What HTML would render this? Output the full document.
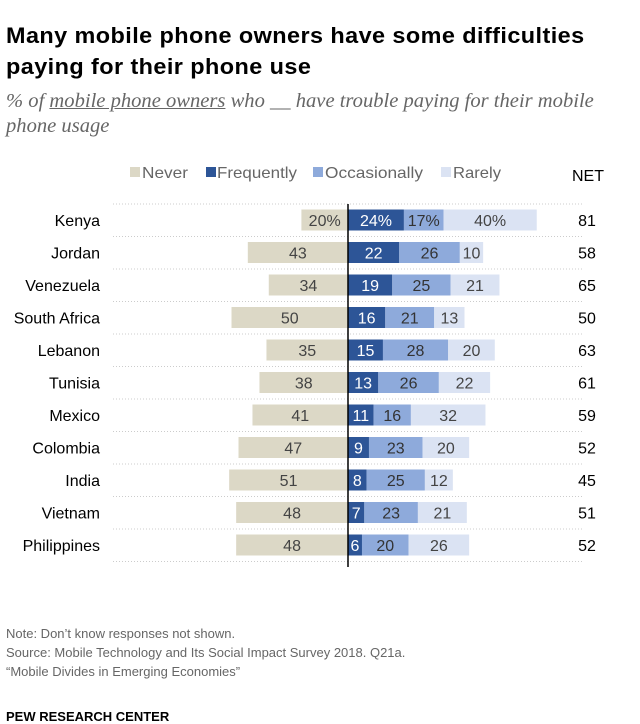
<!DOCTYPE html>
<html><head><meta charset="utf-8"><style>
body{margin:0;background:#fff;width:640px;height:723px;overflow:hidden;font-family:"Liberation Sans",sans-serif;}
.t{position:absolute;white-space:nowrap}
</style></head><body>
<div class="t" style="left:6px;top:20px;font-size:22px;font-weight:bold;line-height:31px;color:#000;letter-spacing:0.4px;transform:scaleX(1.065);transform-origin:left">Many mobile phone owners have some difficulties<br>paying for their phone use</div>
<div class="t" style="left:6px;top:89px;font-family:'Liberation Serif',serif;font-style:italic;font-size:19.5px;line-height:25px;color:#666;transform:scaleX(1.055);transform-origin:left">% of <span style="text-decoration:underline">mobile phone owners</span> who __ have trouble paying for their mobile<br>phone usage</div>
<svg id="c" width="640" height="723" style="position:absolute;left:0;top:0"></svg>
<div class="t" style="left:6px;top:624px;font-size:13px;line-height:19px;color:#666">Note: Don’t know responses not shown.<br>Source: Mobile Technology and Its Social Impact Survey 2018. Q21a.<br>“Mobile Divides in Emerging Economies”</div>
<div class="t" style="left:6px;top:709px;font-size:13px;font-weight:bold;color:#000">PEW RESEARCH CENTER</div>
<script>
const countries=["Kenya","Jordan","Venezuela","South Africa","Lebanon","Tunisia","Mexico","Colombia","India","Vietnam","Philippines"];
const never=[20,43,34,50,35,38,41,47,51,48,48];
const frequently=[24,22,19,16,15,13,11,9,8,7,6];
const occasionally=[17,26,25,21,28,26,16,23,25,23,20];
const rarely=[40,10,21,13,20,22,32,20,12,21,26];
const net=[81,58,65,50,63,61,59,52,45,51,52];
const NS="http://www.w3.org/2000/svg";
const svg=document.getElementById('c');
const cx=348,k=2.33,y0=220,step=32.5,bh=21;
const X=v=>v*k, Y=i=>y0+i*step;
const cols={never:"#dcd8c6",freq:"#2d5597",occ:"#8eaadb",rare:"#dbe3f3"};
function mk(t,a,txt){const e=document.createElementNS(NS,t);for(const key in a)e.setAttribute(key,a[key]);if(txt!==undefined)e.textContent=txt;svg.appendChild(e);return e;}
const leg=[["Never",cols.never,130,142,46],["Frequently",cols.freq,206,217,80],["Occasionally",cols.occ,313,325,98],["Rarely",cols.rare,441,453,48]];
leg.forEach(l=>{
 const r=mk('rect',{x:l[2],y:167,width:10,height:10,fill:l[1]});
 
 const t=mk('text',{x:l[3],y:178,'font-size':16,fill:'#666',textLength:l[4],lengthAdjust:'spacingAndGlyphs'},l[0]);
 
});
const nh=mk('text',{x:588,y:181,'font-size':16,fill:'#000','text-anchor':'middle'},'NET');

for(let i=0;i<=countries.length;i++){
 const l=mk('line',{x1:113,x2:583,y1:Y(i)-16,y2:Y(i)-16,stroke:'#ccc','stroke-dasharray':'1,2'});
 
}
countries.forEach((c,i)=>{
 const y=Y(i),pct=i===0?'%':'';
 const lb=mk('text',{x:100,y:y+6,'font-size':16,fill:'#000','text-anchor':'end'},c);
 
 const segs=[[cx-X(never[i]),X(never[i]),cols.never,never[i],'#444','never'],
  [cx,X(frequently[i]),cols.freq,frequently[i],'#fff','frequently'],
  [cx+X(frequently[i]),X(occasionally[i]),cols.occ,occasionally[i],'#333','occasionally'],
  [cx+X(frequently[i]+occasionally[i]),X(rarely[i]),cols.rare,rarely[i],'#444','rarely']];
 segs.forEach(s=>{
  const r=mk('rect',{x:s[0],y:y-bh/2,width:s[1],height:bh,fill:s[2]});
  
  const t=mk('text',{x:s[0]+s[1]/2,y:y+6,'font-size':16,fill:s[4],'text-anchor':'middle'},s[3]+pct);
  
 });
 const n=mk('text',{x:587,y:y+6,'font-size':16,fill:'#000','text-anchor':'middle'},net[i]);
 
});
const ax=mk('line',{x1:cx,x2:cx,y1:Y(0)-16,y2:Y(countries.length-1)+22,stroke:'#000','stroke-width':1.5});

</script>
</body></html>
